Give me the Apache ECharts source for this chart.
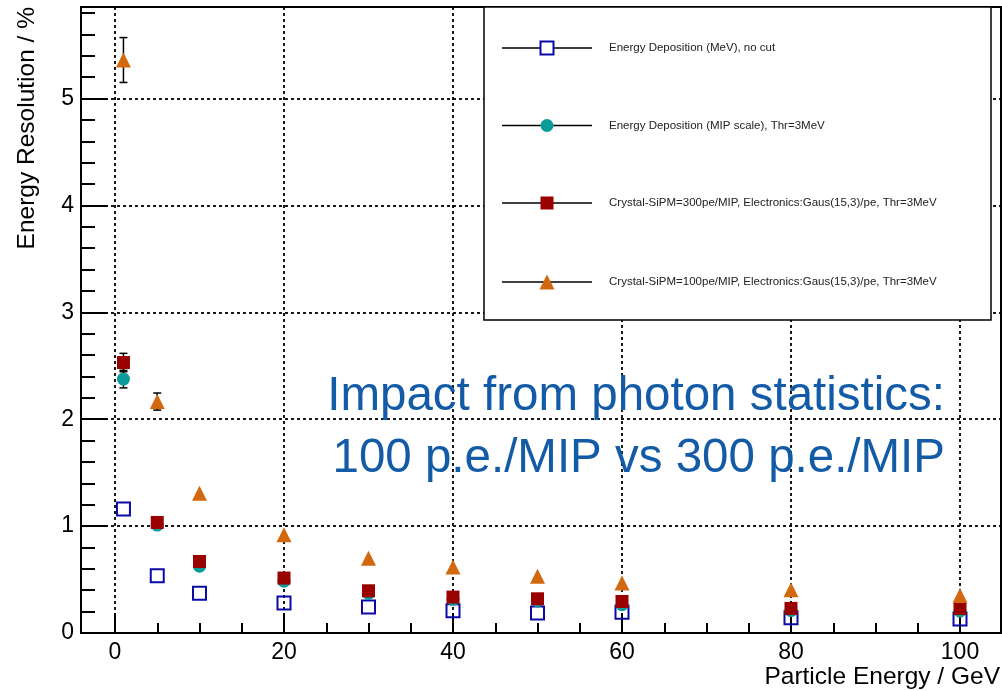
<!DOCTYPE html>
<html>
<head>
<meta charset="utf-8">
<title>Energy Resolution vs Particle Energy</title>
<script src="https://cdn.jsdelivr.net/npm/echarts@6/dist/echarts.min.js"></script>
<style>
  html, body { margin: 0; padding: 0; background: #fff; }
  #chart { width: 1002px; height: 691px; }
</style>
</head>
<body>
<div id="chart"></div>
<script>
// Particle energies (GeV)
const energies = [1, 5, 10, 20, 30, 40, 50, 60, 80, 100];

// Energy resolution (%) for each configuration
const resDepositNoCut   = [1.16, 0.535, 0.372, 0.28, 0.243, 0.208, 0.187, 0.193, 0.143, 0.131];
const resDepositMip     = [2.375, 1.01, 0.625, 0.484, 0.37, 0.315, 0.30, 0.265, 0.21, 0.205];
const resSipm300        = [2.53, 1.034, 0.669, 0.514, 0.395, 0.336, 0.32, 0.295, 0.23, 0.23];
const resSipm100        = [5.36, 2.165, 1.308, 0.92, 0.70, 0.617, 0.53, 0.467, 0.405, 0.351];

// Statistical errors (only those larger than the marker are listed)
const errDepositNoCut   = [null, null, null, null, null, null, null, null, null, null];
const errDepositMip     = [0.082, null, null, null, null, null, null, null, null, null];
const errSipm300        = [0.086, null, null, null, null, null, null, null, null, null];
const errSipm100        = [0.21, 0.08, null, null, null, null, null, null, null, null];

const seriesNames = [
  'Energy Deposition (MeV), no cut',
  'Energy Deposition (MIP scale), Thr=3MeV',
  'Crystal-SiPM=300pe/MIP, Electronics:Gaus(15,3)/pe, Thr=3MeV',
  'Crystal-SiPM=100pe/MIP, Electronics:Gaus(15,3)/pe, Thr=3MeV'
];

const xTicks = [0, 20, 40, 60, 80, 100];
const yTicks = [0, 1, 2, 3, 4, 5];

const xTitle = 'Particle Energy / GeV';
const yTitle = 'Energy Resolution / %';
const noteLines = ['Impact from photon statistics:', '100 p.e./MIP vs 300 p.e./MIP'];

const FONT = "'Liberation Sans', Arial, Helvetica, sans-serif";
const Y_MAX = 5.856;

const styles = [
  { symbol: 'rect', size: 13, fill: 'rgba(255,255,255,0)', stroke: '#0a0aa6', strokeWidth: 2 },
  { symbol: 'circle', size: 13, fill: '#0b9b98', stroke: null, strokeWidth: 0 },
  { symbol: 'rect', size: 13, fill: '#990000', stroke: null, strokeWidth: 0 },
  { symbol: 'triangle', size: 15, fill: '#d2690e', stroke: null, strokeWidth: 0 }
];

const values = [resDepositNoCut, resDepositMip, resSipm300, resSipm100];
const errors = [errDepositNoCut, errDepositMip, errSipm300, errSipm100];

function pairs(vals) {
  return energies.map((e, i) => [e, vals[i]]);
}
function errTriples(vals, errs) {
  const out = [];
  energies.forEach((e, i) => { if (errs[i] != null) out.push([e, vals[i], errs[i]]); });
  return out;
}

function renderErrorBar(params, api) {
  const x = api.value(0), y = api.value(1), err = api.value(2);
  const top = api.coord([x, y + err]);
  const bot = api.coord([x, y - err]);
  const cap = 4;
  const st = { stroke: '#000', lineWidth: 1.5 };
  return {
    type: 'group',
    children: [
      { type: 'line', shape: { x1: top[0], y1: top[1], x2: bot[0], y2: bot[1] }, style: st },
      { type: 'line', shape: { x1: top[0] - cap, y1: top[1], x2: top[0] + cap, y2: top[1] }, style: st },
      { type: 'line', shape: { x1: bot[0] - cap, y1: bot[1], x2: bot[0] + cap, y2: bot[1] }, style: st }
    ]
  };
}

const series = [];
values.forEach((vals, k) => {
  const s = styles[k];
  series.push({
    type: 'custom',
    xAxisIndex: 1, yAxisIndex: 1,
    renderItem: renderErrorBar,
    data: errTriples(vals, errors[k]),
    clip: false,
    z: 2 + k * 2
  });
  series.push({
    type: 'scatter',
    name: seriesNames[k],
    xAxisIndex: 1, yAxisIndex: 1,
    symbol: s.symbol,
    symbolSize: s.size,
    itemStyle: {
      color: s.fill,
      borderColor: s.stroke || s.fill,
      borderWidth: s.strokeWidth,
      opacity: 1
    },
    data: pairs(vals),
    clip: false,
    z: 3 + k * 2
  });
});

// Legend box drawn as graphics
const legendRows = [48, 125.5, 203, 282];
const legendGraphics = [{
  type: 'rect',
  shape: { x: 484, y: 7, width: 507, height: 313 },
  style: { fill: '#fff', stroke: '#000', lineWidth: 1.5 },
  z: 100
}];
legendRows.forEach((yy, k) => {
  const s = styles[k];
  legendGraphics.push({
    type: 'line',
    shape: { x1: 502, y1: yy, x2: 592, y2: yy },
    style: { stroke: '#000', lineWidth: 1.5 },
    z: 101
  });
  let marker;
  if (s.symbol === 'rect') {
    const h = s.size / 2;
    marker = { type: 'rect', shape: { x: 547 - h, y: yy - h, width: s.size, height: s.size },
      style: { fill: k === 0 ? '#fff' : s.fill, stroke: s.stroke, lineWidth: s.strokeWidth } };
  } else if (s.symbol === 'circle') {
    marker = { type: 'circle', shape: { cx: 547, cy: yy, r: s.size / 2 }, style: { fill: s.fill } };
  } else {
    const h = s.size / 2;
    marker = { type: 'polygon', shape: { points: [[547, yy - h], [547 + h, yy + h], [547 - h, yy + h]] },
      style: { fill: s.fill } };
  }
  marker.z = 102;
  legendGraphics.push(marker);
  legendGraphics.push({
    type: 'text',
    x: 609, y: yy,
    style: { text: seriesNames[k], fill: '#222', font: '11.5px ' + FONT, textAlign: 'left', textVerticalAlign: 'middle' },
    z: 102
  });
});

const titleGraphics = [
  {
    type: 'text', x: 1000, y: 677,
    style: { text: xTitle, fill: '#000', font: '24.5px ' + FONT, textAlign: 'right', textVerticalAlign: 'middle' },
    z: 100
  },
  {
    type: 'text', x: 27, y: 7, rotation: Math.PI / 2,
    style: { text: yTitle, fill: '#000', font: '24.5px ' + FONT, textAlign: 'right', textVerticalAlign: 'middle' },
    z: 100
  },
  {
    type: 'text', x: 945, y: 397,
    style: { text: noteLines[0], fill: '#135ba6', font: '47.5px ' + FONT, textAlign: 'right', textVerticalAlign: 'middle' },
    z: 110
  },
  {
    type: 'text', x: 945, y: 459,
    style: { text: noteLines[1], fill: '#135ba6', font: '47.5px ' + FONT, textAlign: 'right', textVerticalAlign: 'middle' },
    z: 110
  }
];

const gridLine = { show: true, lineStyle: { color: '#000', width: 1.8, type: [3, 3] } };

const chart = echarts.init(document.getElementById('chart'), null, { renderer: 'canvas' });
chart.setOption({
  animation: false,
  backgroundColor: '#fff',
  textStyle: { fontFamily: FONT },
  grid: [
    // frame: full plotting area
    { left: 81, top: 7, right: 1, bottom: 58, show: true, borderColor: '#000', borderWidth: 2, backgroundColor: 'rgba(0,0,0,0)' },
    // data window: 0..100 GeV mapped inside the frame
    { left: 115, top: 7, width: 845, bottom: 58 }
  ],
  xAxis: [
    { gridIndex: 0, type: 'value', min: -4, max: 104.85, show: false },
    {
      gridIndex: 1, type: 'value', min: xTicks[0], max: xTicks[xTicks.length - 1], interval: 20,
      position: 'bottom',
      axisLine: { show: false, onZero: false },
      axisTick: { show: true, inside: true, length: 20, lineStyle: { color: '#000', width: 2 } },
      minorTick: { show: true, splitNumber: 4, length: 10, lineStyle: { color: '#000', width: 2 } },
      axisLabel: { show: true, margin: 8, color: '#000', fontSize: 23, fontFamily: FONT,
        formatter: v => (xTicks.indexOf(v) >= 0 ? String(v) : '') },
      splitLine: gridLine
    }
  ],
  yAxis: [
    {
      gridIndex: 0, type: 'value', min: 0, max: Y_MAX, interval: 1,
      position: 'left',
      axisLine: { show: false, onZero: false },
      axisTick: { show: true, inside: true, length: 27, lineStyle: { color: '#000', width: 2 } },
      minorTick: { show: true, splitNumber: 5, length: 14, lineStyle: { color: '#000', width: 2 } },
      axisLabel: { show: true, margin: 7, color: '#000', fontSize: 23, fontFamily: FONT,
        showMaxLabel: false,
        formatter: v => (yTicks.indexOf(v) >= 0 ? String(v) : '') },
      splitLine: gridLine
    },
    { gridIndex: 1, type: 'value', min: 0, max: Y_MAX, show: false }
  ],
  series: series,
  graphic: legendGraphics.concat(titleGraphics)
});
</script>
</body>
</html>
